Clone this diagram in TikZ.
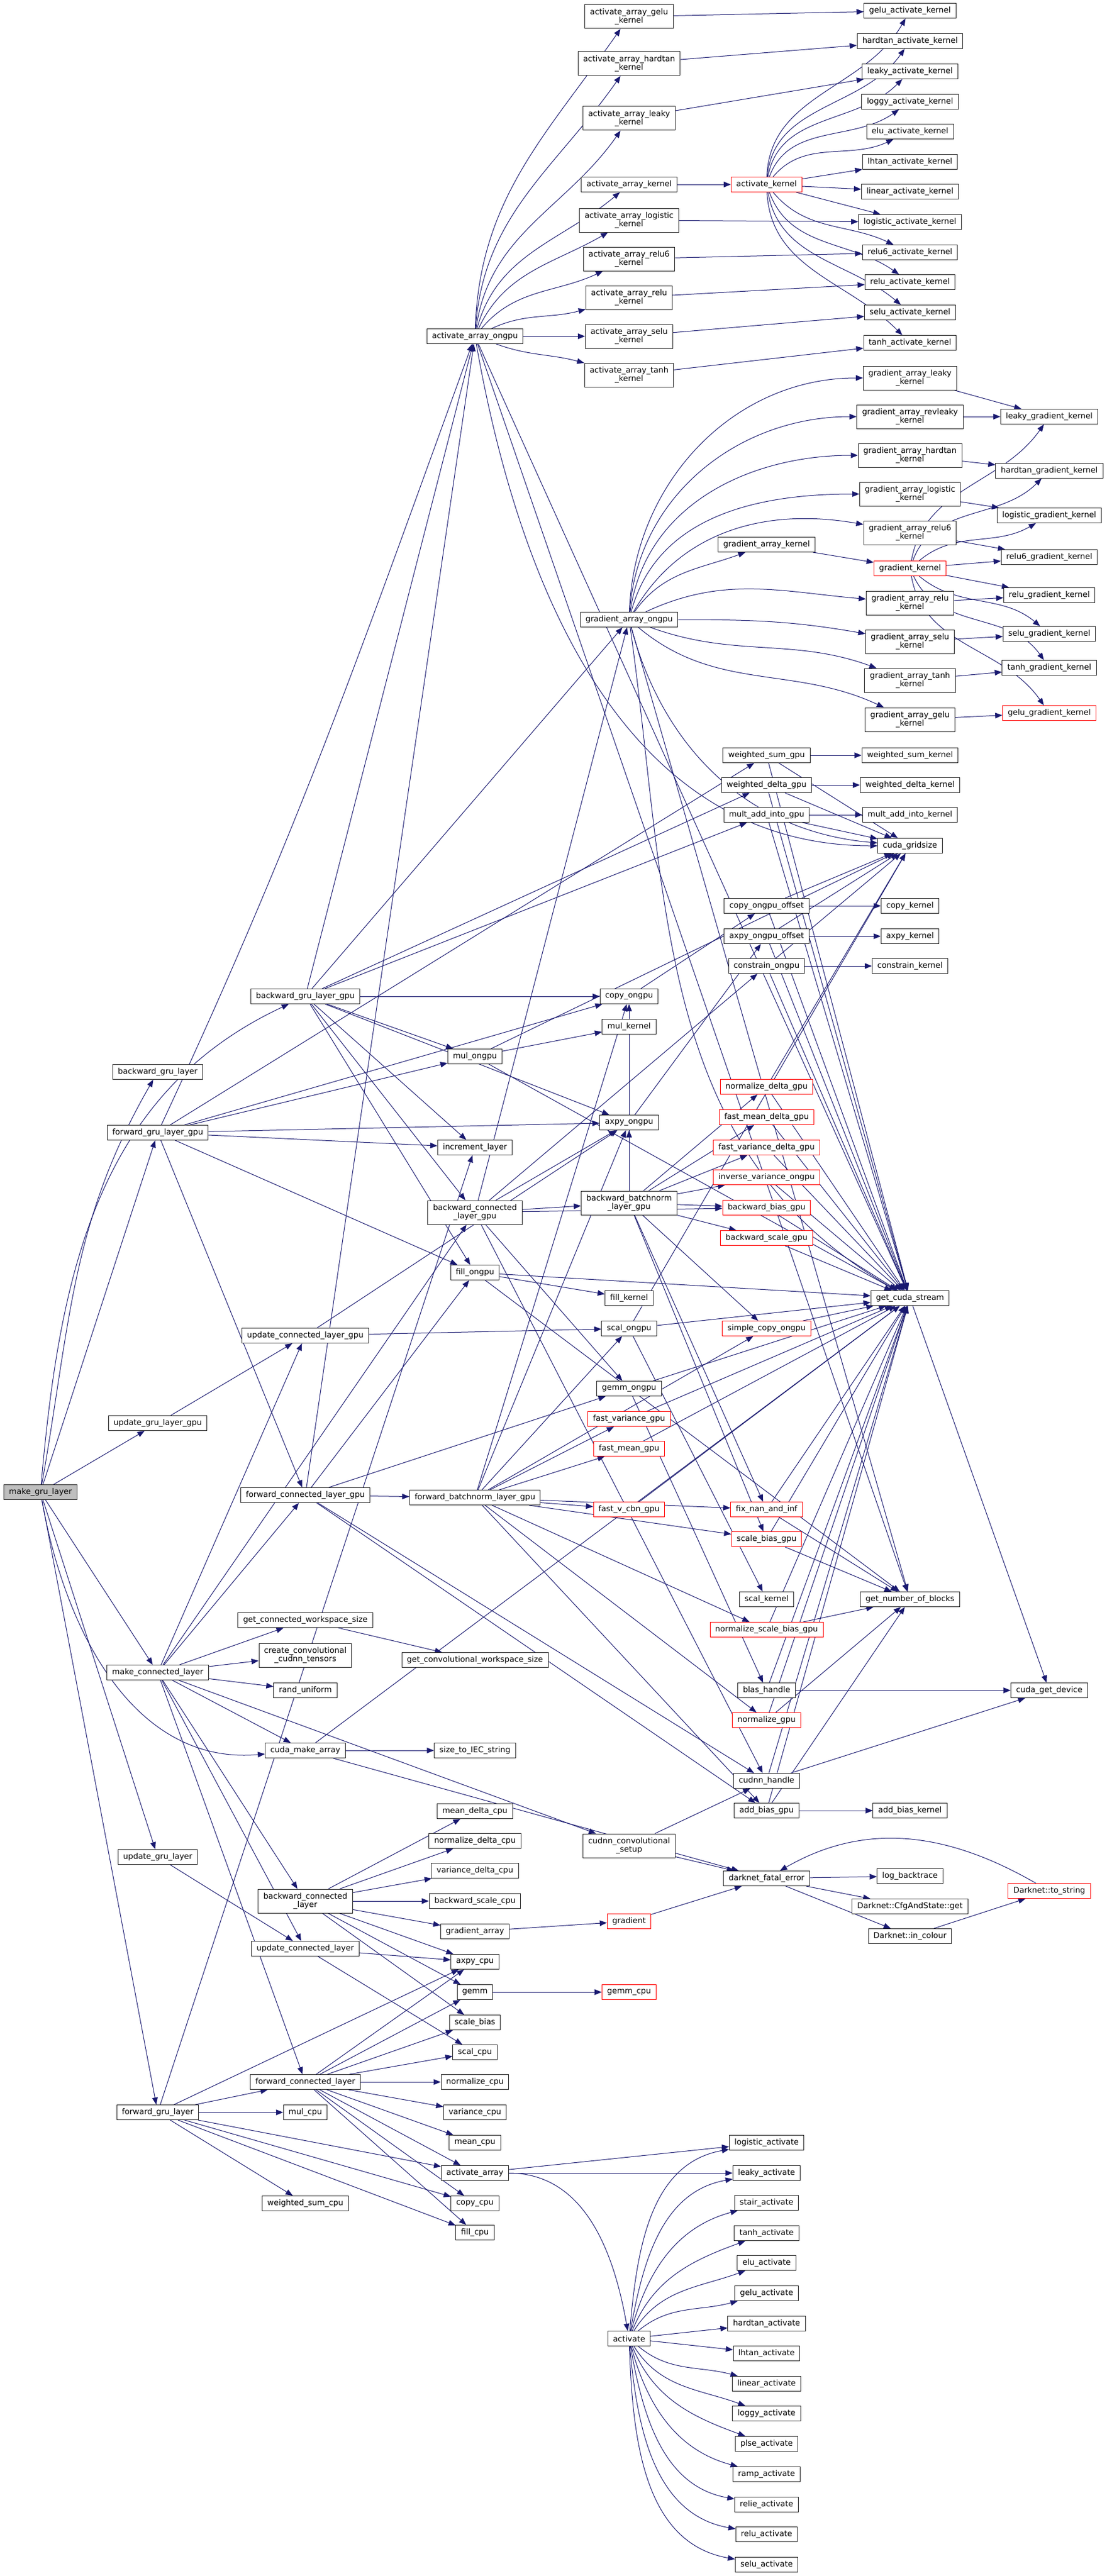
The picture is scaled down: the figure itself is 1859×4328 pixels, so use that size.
\documentclass[tikz,border=0pt]{standalone}
\usepackage{fontspec}
\setmainfont{DejaVu Sans}
\usetikzlibrary{arrows.meta,backgrounds}
\definecolor{edgeblue}{HTML}{191970}
\definecolor{boxline}{HTML}{222222}
\definecolor{rootfill}{HTML}{BFBFBF}
\begin{document}
\begin{tikzpicture}[x=0.75pt,y=0.75pt,
    fn/.style={draw=boxline,fill=white,line width=0.75pt,inner xsep=6.5pt,inner ysep=2pt,minimum height=18.75pt,align=center,font=\fontsize{10}{11}\selectfont},
    two/.style={minimum height=30pt},
    cut/.style={fn,draw=red},
    root/.style={fn,fill=rootfill},
    call/.style={draw=edgeblue,line width=0.75pt,-{Triangle[length=9pt,width=7pt]}}]
    \useasboundingbox (0,0) rectangle (1859,-4328);
    \node[root] (mgl) at (68,-2507) {make\_gru\_layer};
    \node[fn] (bgl) at (265,-1801) {backward\_gru\_layer};
    \node[fn] (fglg) at (265,-1903) {forward\_gru\_layer\_gpu};
    \node[fn] (uglg) at (265,-2391) {update\_gru\_layer\_gpu};
    \node[fn] (mcl) at (265,-2810) {make\_connected\_layer};
    \node[fn] (ugl) at (265,-3120) {update\_gru\_layer};
    \node[fn] (fgl) at (265,-3549) {forward\_gru\_layer};
    \node[fn] (bglg) at (513,-1674) {backward\_gru\_layer\_gpu};
    \node[fn] (uclg) at (513,-2244) {update\_connected\_layer\_gpu};
    \node[fn] (fclg) at (513,-2512) {forward\_connected\_layer\_gpu};
    \node[fn] (gcws) at (513,-2722) {get\_connected\_workspace\_size};
    \node[fn,two] (ccct) at (513,-2781) {create\_convolutional\\\_cudnn\_tensors};
    \node[fn] (rndu) at (513,-2840) {rand\_uniform};
    \node[fn] (cma) at (513,-2941) {cuda\_make\_array};
    \node[fn,two] (bcl) at (513,-3194) {backward\_connected\\\_layer};
    \node[fn] (ucl) at (513,-3274) {update\_connected\_layer};
    \node[fn] (fcl) at (513,-3498) {forward\_connected\_layer};
    \node[fn] (mulc) at (513,-3549) {mul\_cpu};
    \node[fn] (wsc) at (513,-3702) {weighted\_sum\_cpu};
    \node[fn] (aao) at (798,-565) {activate\_array\_ongpu};
    \node[fn] (mulo) at (798,-1775) {mul\_ongpu};
    \node[fn] (incl) at (798,-1928) {increment\_layer};
    \node[fn,two] (bclg) at (798,-2037) {backward\_connected\\\_layer\_gpu};
    \node[fn] (fillo) at (798,-2138) {fill\_ongpu};
    \node[fn] (fblg) at (798,-2516) {forward\_batchnorm\_layer\_gpu};
    \node[fn] (gcvws) at (798,-2789) {get\_convolutional\_workspace\_size};
    \node[fn] (iec) at (798,-2941) {size\_to\_IEC\_string};
    \node[fn] (mdc) at (798,-3043) {mean\_delta\_cpu};
    \node[fn] (ndc) at (798,-3093) {normalize\_delta\_cpu};
    \node[fn] (vdc) at (798,-3143) {variance\_delta\_cpu};
    \node[fn] (bsc) at (798,-3194) {backward\_scale\_cpu};
    \node[fn] (garr) at (798,-3245) {gradient\_array};
    \node[fn] (axc) at (798,-3296) {axpy\_cpu};
    \node[fn] (gemm) at (798,-3347) {gemm};
    \node[fn] (sbias) at (798,-3398) {scale\_bias};
    \node[fn] (scalc) at (798,-3448) {scal\_cpu};
    \node[fn] (normc) at (798,-3498) {normalize\_cpu};
    \node[fn] (varc) at (798,-3549) {variance\_cpu};
    \node[fn] (meanc) at (798,-3600) {mean\_cpu};
    \node[fn] (aarr) at (798,-3651) {activate\_array};
    \node[fn] (copyc) at (798,-3702) {copy\_cpu};
    \node[fn] (fillc) at (798,-3751) {fill\_cpu};
    \node[fn,two] (kgelu) at (1057,-28) {activate\_array\_gelu\\\_kernel};
    \node[fn,two] (khard) at (1057,-107) {activate\_array\_hardtan\\\_kernel};
    \node[fn,two] (kleaky) at (1057,-199) {activate\_array\_leaky\\\_kernel};
    \node[fn] (kact) at (1057,-310) {activate\_array\_kernel};
    \node[fn,two] (klogi) at (1057,-370) {activate\_array\_logistic\\\_kernel};
    \node[fn,two] (krelusix) at (1057,-435) {activate\_array\_relu6\\\_kernel};
    \node[fn,two] (krelu) at (1057,-500) {activate\_array\_relu\\\_kernel};
    \node[fn,two] (kselu) at (1057,-565) {activate\_array\_selu\\\_kernel};
    \node[fn,two] (ktanh) at (1057,-630) {activate\_array\_tanh\\\_kernel};
    \node[fn] (gao) at (1057,-1041) {gradient\_array\_ongpu};
    \node[fn] (copyo) at (1057,-1674) {copy\_ongpu};
    \node[fn] (mulk) at (1057,-1725) {mul\_kernel};
    \node[fn] (axo) at (1057,-1886) {axpy\_ongpu};
    \node[fn,two] (bblg) at (1057,-2021) {backward\_batchnorm\\\_layer\_gpu};
    \node[fn] (fillk) at (1057,-2181) {fill\_kernel};
    \node[fn] (scalo) at (1057,-2232) {scal\_ongpu};
    \node[fn] (gemmo) at (1057,-2333) {gemm\_ongpu};
    \node[cut] (fvar) at (1057,-2384) {fast\_variance\_gpu};
    \node[cut] (fmean) at (1057,-2434) {fast\_mean\_gpu};
    \node[cut] (fvcbn) at (1057,-2536) {fast\_v\_cbn\_gpu};
    \node[fn,two] (ccs) at (1057,-3101) {cudnn\_convolutional\\\_setup};
    \node[cut] (grad) at (1057,-3228) {gradient};
    \node[cut] (gemmc) at (1057,-3347) {gemm\_cpu};
    \node[fn] (act) at (1057,-3929) {activate};
    \node[cut] (actk) at (1288,-310) {activate\_kernel};
    \node[fn] (gak) at (1288,-915) {gradient\_array\_kernel};
    \node[fn] (wsg) at (1288,-1269) {weighted\_sum\_gpu};
    \node[fn] (wdg) at (1288,-1319) {weighted\_delta\_gpu};
    \node[fn] (maig) at (1288,-1369) {mult\_add\_into\_gpu};
    \node[fn] (coo) at (1288,-1522) {copy\_ongpu\_offset};
    \node[fn] (aoo) at (1288,-1573) {axpy\_ongpu\_offset};
    \node[fn] (cono) at (1288,-1623) {constrain\_ongpu};
    \node[cut] (ndg) at (1288,-1826) {normalize\_delta\_gpu};
    \node[cut] (fmdg) at (1288,-1877) {fast\_mean\_delta\_gpu};
    \node[cut] (fvdg) at (1288,-1928) {fast\_variance\_delta\_gpu};
    \node[cut] (ivo) at (1288,-1978) {inverse\_variance\_ongpu};
    \node[cut] (bbg) at (1288,-2029) {backward\_bias\_gpu};
    \node[cut] (bsg) at (1288,-2080) {backward\_scale\_gpu};
    \node[cut] (sco) at (1288,-2232) {simple\_copy\_ongpu};
    \node[cut] (fnan) at (1288,-2536) {fix\_nan\_and\_inf};
    \node[cut] (sbg) at (1288,-2586) {scale\_bias\_gpu};
    \node[fn] (scalk) at (1288,-2687) {scal\_kernel};
    \node[cut] (nsbg) at (1288,-2738) {normalize\_scale\_bias\_gpu};
    \node[fn] (blas) at (1288,-2840) {blas\_handle};
    \node[cut] (normg) at (1288,-2890) {normalize\_gpu};
    \node[fn] (cdnh) at (1288,-2992) {cudnn\_handle};
    \node[fn] (abg) at (1288,-3042) {add\_bias\_gpu};
    \node[fn] (dfe) at (1288,-3156) {darknet\_fatal\_error};
    \node[fn] (alogi) at (1288,-3600) {logistic\_activate};
    \node[fn] (aleaky) at (1288,-3651) {leaky\_activate};
    \node[fn] (astair) at (1288,-3701) {stair\_activate};
    \node[fn] (atanh) at (1288,-3752) {tanh\_activate};
    \node[fn] (aelu) at (1288,-3802) {elu\_activate};
    \node[fn] (agelu) at (1288,-3853) {gelu\_activate};
    \node[fn] (ahard) at (1288,-3904) {hardtan\_activate};
    \node[fn] (alhtan) at (1288,-3954) {lhtan\_activate};
    \node[fn] (alin) at (1288,-4005) {linear\_activate};
    \node[fn] (aloggy) at (1288,-4055) {loggy\_activate};
    \node[fn] (aplse) at (1288,-4106) {plse\_activate};
    \node[fn] (aramp) at (1288,-4157) {ramp\_activate};
    \node[fn] (arelie) at (1288,-4208) {relie\_activate};
    \node[fn] (arelu) at (1288,-4258) {relu\_activate};
    \node[fn] (aselu) at (1288,-4309) {selu\_activate};
    \node[fn] (gelak) at (1529,-18) {gelu\_activate\_kernel};
    \node[fn] (hardak) at (1529,-69) {hardtan\_activate\_kernel};
    \node[fn] (leakak) at (1529,-120) {leaky\_activate\_kernel};
    \node[fn] (loggak) at (1529,-171) {loggy\_activate\_kernel};
    \node[fn] (eluak) at (1529,-221) {elu\_activate\_kernel};
    \node[fn] (lhtak) at (1529,-272) {lhtan\_activate\_kernel};
    \node[fn] (linak) at (1529,-322) {linear\_activate\_kernel};
    \node[fn] (logak) at (1529,-373) {logistic\_activate\_kernel};
    \node[fn] (r6ak) at (1529,-424) {relu6\_activate\_kernel};
    \node[fn] (reluak) at (1529,-474) {relu\_activate\_kernel};
    \node[fn] (seluak) at (1529,-525) {selu\_activate\_kernel};
    \node[fn] (tanhak) at (1529,-576) {tanh\_activate\_kernel};
    \node[fn,two] (galeaky) at (1529,-635) {gradient\_array\_leaky\\\_kernel};
    \node[fn,two] (garevl) at (1529,-700) {gradient\_array\_revleaky\\\_kernel};
    \node[fn,two] (gahard) at (1529,-765) {gradient\_array\_hardtan\\\_kernel};
    \node[fn,two] (galogi) at (1529,-830) {gradient\_array\_logistic\\\_kernel};
    \node[fn,two] (garelusix) at (1529,-895) {gradient\_array\_relu6\\\_kernel};
    \node[cut] (gk) at (1529,-955) {gradient\_kernel};
    \node[fn,two] (garelu) at (1529,-1013) {gradient\_array\_relu\\\_kernel};
    \node[fn,two] (gaselu) at (1529,-1078) {gradient\_array\_selu\\\_kernel};
    \node[fn,two] (gatanh) at (1529,-1143) {gradient\_array\_tanh\\\_kernel};
    \node[fn,two] (gagelu) at (1529,-1209) {gradient\_array\_gelu\\\_kernel};
    \node[fn] (wsk) at (1529,-1269) {weighted\_sum\_kernel};
    \node[fn] (wdk) at (1529,-1319) {weighted\_delta\_kernel};
    \node[fn] (maik) at (1529,-1369) {mult\_add\_into\_kernel};
    \node[fn] (grid) at (1529,-1421) {cuda\_gridsize};
    \node[fn] (copyk) at (1529,-1522) {copy\_kernel};
    \node[fn] (axk) at (1529,-1573) {axpy\_kernel};
    \node[fn] (conk) at (1529,-1623) {constrain\_kernel};
    \node[fn] (gcs) at (1529,-2181) {get\_cuda\_stream};
    \node[fn] (gnb) at (1529,-2687) {get\_number\_of\_blocks};
    \node[fn] (abk) at (1529,-3042) {add\_bias\_kernel};
    \node[fn] (lbt) at (1529,-3152) {log\_backtrace};
    \node[fn] (cfg) at (1529,-3203) {Darknet::CfgAndState::get};
    \node[fn] (incol) at (1529,-3253) {Darknet::in\_colour};
    \node[fn] (lgk) at (1763,-700) {leaky\_gradient\_kernel};
    \node[fn] (hgk) at (1763,-791) {hardtan\_gradient\_kernel};
    \node[fn] (logk) at (1763,-866) {logistic\_gradient\_kernel};
    \node[fn] (r6gk) at (1763,-936) {relu6\_gradient\_kernel};
    \node[fn] (rgk) at (1763,-1000) {relu\_gradient\_kernel};
    \node[fn] (sgk) at (1763,-1065) {selu\_gradient\_kernel};
    \node[fn] (tgk) at (1763,-1122) {tanh\_gradient\_kernel};
    \node[cut] (ggk) at (1763,-1198) {gelu\_gradient\_kernel};
    \node[fn] (cgd) at (1763,-2840) {cuda\_get\_device};
    \node[cut] (tostr) at (1763,-3177) {Darknet::to\_string};
    \begin{scope}[on background layer,every edge/.style={call}]
        \path (mgl) edge[out=80,in=240] (bgl) edge[out=85,in=205] (bglg) edge (fglg) edge (uglg) edge (mcl) edge[out=-80,in=185] (cma) edge (ugl) edge (fgl);
        \path (fglg) edge[out=65,in=250] (aao) edge (wsg) edge (copyo) edge (mulo) edge (axo) edge (incl) edge (fclg) edge (fillo);
        \path (bglg) edge (aao) edge (gao) edge (wdg) edge (maig) edge (copyo) edge (mulo) edge (axo) edge (incl) edge (bclg) edge (fillo);
        \path (aao) edge[out=88,in=235] (kgelu) edge[out=86,in=235] (khard) edge[out=82,in=235] (kleaky) edge[out=75,in=220] (kact) edge[out=65,in=210] (klogi) edge[out=50,in=205] (krelusix) edge[out=25,in=195] (krelu) edge (kselu) edge[out=-20,in=165] (ktanh) edge (gcs) edge (gnb) edge[out=-80,in=180] (grid);
        \path (kgelu) edge (gelak) (khard) edge (hardak) (kleaky) edge (leakak) (kact) edge (actk) (klogi) edge (logak) (krelusix) edge (r6ak) (krelu) edge (reluak) (kselu) edge (seluak) (ktanh) edge (tanhak);
        \path (actk) edge[out=88,in=240] (gelak) edge[out=85,in=235] (hardak) edge[out=80,in=225] (leakak) edge[out=70,in=215] (loggak) edge[out=50,in=205] (eluak) edge (lhtak) edge (linak) edge (logak) edge[out=-50,in=155] (r6ak) edge[out=-70,in=145] (reluak) edge[out=-80,in=140] (seluak) edge[out=-87,in=135] (tanhak);
        \path (gao) edge[out=88,in=180] (galeaky) edge[out=86,in=180] (garevl) edge[out=82,in=180] (gahard) edge[out=75,in=180] (galogi) edge[out=60,in=170] (garelusix) edge[out=55,in=200] (gak) edge[out=25,in=175] (garelu) edge[out=0,in=170] (gaselu) edge[out=-20,in=160] (gatanh) edge[out=-40,in=155] (gagelu) edge[out=-82,in=150] (gcs) edge (gnb) edge[out=-75,in=175] (grid);
        \path (galeaky) edge (lgk) (garevl) edge (lgk) (gahard) edge (hgk) (galogi) edge (logk) (garelusix) edge (r6gk) (gak) edge (gk) (garelu) edge (rgk) (gaselu) edge (sgk) (gatanh) edge (tgk) (gagelu) edge (ggk);
        \path (gk) edge[out=80,in=235] (lgk) edge[out=70,in=225] (hgk) edge[out=40,in=210] (logk) edge (r6gk) edge (rgk) edge[out=-40,in=140] (sgk) edge[out=-65,in=125] (tgk) edge[out=-80,in=125] (ggk);
        \path (wsg) edge (wsk) edge (grid) edge (gcs);
        \path (wdg) edge (wdk) edge (grid) edge (gcs);
        \path (maig) edge (maik) edge (grid) edge (gcs);
        \path (coo) edge (copyk) edge (grid) edge (gcs);
        \path (aoo) edge (axk) edge (grid) edge (gcs);
        \path (cono) edge (conk) edge (grid) edge (gcs);
        \path (copyo) edge (coo) (axo) edge (aoo);
        \path (mulo) edge (mulk) edge (grid) edge (gcs);
        \path (fillo) edge (fillk) edge (gcs) edge (gnb);
        \path (scalo) edge (scalk) edge (gcs) edge (grid);
        \path (ndg) edge (grid) edge (gcs);
        \path (fmdg) edge (gcs) (fvdg) edge (gcs) (ivo) edge (gcs) (bbg) edge (gcs) (bsg) edge (gcs) (sco) edge (gcs);
        \path (gemmo) edge (gcs) edge (blas);
        \path (fvar) edge (gcs) (fmean) edge (gcs) (fvcbn) edge (gcs);
        \path (fnan) edge (gcs) edge (gnb);
        \path (sbg) edge (gcs) edge (gnb);
        \path (nsbg) edge (gnb) edge (gcs);
        \path (blas) edge (cgd) edge (gcs);
        \path (normg) edge (gcs) edge (gnb);
        \path (cdnh) edge (cgd) edge (gcs);
        \path (abg) edge (abk) edge (gcs) edge (gnb);
        \path (gcs) edge (cgd);
        \path (ccs) edge (cdnh) edge (dfe);
        \path (dfe) edge (lbt) edge (cfg) edge (incol);
        \path (incol) edge (tostr);
        \path (tostr) edge[out=150,in=30] (dfe);
        \path (grad) edge (dfe) (gemm) edge (gemmc) (garr) edge (grad);
        \path (bclg) edge (gao) edge (cono) edge (axo) edge (bblg) edge (bbg) edge (gemmo) edge (cdnh);
        \path (fclg) edge (fillo) edge (gemmo) edge (fblg) edge (abg) edge (aao) edge (cdnh);
        \path (fblg) edge (copyo) edge (axo) edge (scalo) edge (sco) edge (fmean) edge (fvar) edge (fvcbn) edge (fnan) edge (sbg) edge (nsbg) edge (normg) edge (abg);
        \path (bblg) edge (ndg) edge (fmdg) edge (fvdg) edge (ivo) edge (bbg) edge (bsg) edge (sbg) edge (sco) edge (fnan) edge (axo) edge (copyo);
        \path (uclg) edge (axo) edge (scalo);
        \path (uglg) edge (uclg);
        \path (mcl) edge (fclg) edge (bclg) edge (uclg) edge (gcws) edge (ccct) edge (rndu) edge (cma) edge (bcl) edge (ucl) edge (fcl) edge (ccs);
        \path (gcws) edge (gcvws);
        \path (cma) edge (iec) edge (gcs) edge (dfe);
        \path (ugl) edge (ucl);
        \path (ucl) edge (axc) edge (scalc);
        \path (bcl) edge (mdc) edge (ndc) edge (vdc) edge (bsc) edge (garr) edge (axc) edge (gemm) edge (sbias);
        \path (fcl) edge (fillc) edge (gemm) edge (meanc) edge (varc) edge (scalc) edge (axc) edge (copyc) edge (normc) edge (sbias) edge (aarr);
        \path (fgl) edge (fcl) edge (mulc) edge (wsc) edge (aarr) edge (copyc) edge (fillc) edge (axc) edge (incl);
        \path (aarr) edge (alogi) edge (aleaky) edge[out=0,in=100] (act);
        \path (act) edge[out=85,in=190] (alogi) edge[out=80,in=190] (aleaky) edge[out=75,in=195] (astair) edge[out=68,in=200] (atanh) edge[out=58,in=200] (aelu) edge[out=40,in=195] (agelu) edge (ahard) edge (alhtan) edge[out=-40,in=165] (alin) edge[out=-58,in=160] (aloggy) edge[out=-68,in=160] (aplse) edge[out=-75,in=165] (aramp) edge[out=-80,in=170] (arelie) edge[out=-85,in=170] (arelu) edge[out=-88,in=170] (aselu);
    \end{scope}
\end{tikzpicture}
\end{document}
